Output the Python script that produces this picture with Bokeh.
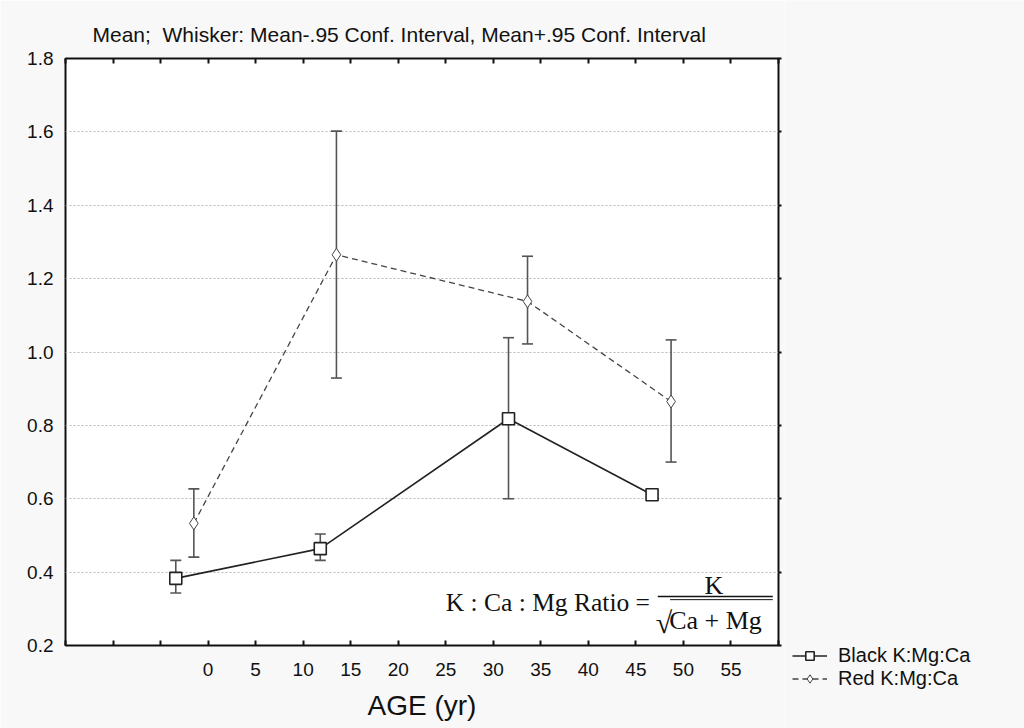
from bokeh.plotting import figure
from bokeh.layouts import row
from bokeh.models import (ColumnDataSource, Whisker, TeeHead, FixedTicker, LinearAxis,
                          Legend, LegendItem, Label, Range1d)
from bokeh.embed import file_html
from bokeh.resources import INLINE

# ---- data ----
black_age = [-3.4, 11.8, 31.6, 46.7]
black_mean = [0.383, 0.464, 0.818, 0.611]
black_lower = [0.343, 0.432, 0.600, 0.600]
black_upper = [0.432, 0.504, 1.039, 0.622]

red_age = [-1.5, 13.5, 33.6, 48.7]
red_mean = [0.533, 1.265, 1.138, 0.865]
red_lower = [0.441, 0.929, 1.022, 0.700]
red_upper = [0.627, 1.602, 1.261, 1.033]

x_ticks = [-15, -10, -5, 0, 5, 10, 15, 20, 25, 30, 35, 40, 45, 50, 55, 60]
x_tick_labels = ["", "", "", "0", "5", "10", "15", "20", "25", "30", "35", "40", "45", "50", "55", ""]
y_ticks = [0.2, 0.4, 0.6, 0.8, 1.0, 1.2, 1.4, 1.6, 1.8]
y_tick_labels = ["0.2", "0.4", "0.6", "0.8", "1.0", "1.2", "1.4", "1.6", "1.8"]

title_text = "Mean;\u00a0 Whisker: Mean-.95 Conf. Interval, Mean+.95 Conf. Interval"
x_title = "AGE (yr)"
series_names = ["Black K:Mg:Ca", "Red K:Mg:Ca"]

FONT = "Liberation Sans"
SERIF = "Liberation Serif"
BG = "#f8f8f8"
INK = "#111111"

p = figure(width=784, height=728,
           x_range=Range1d(-15, 60), y_range=Range1d(0.2, 1.8),
           output_backend="svg", toolbar_location=None,
           min_border_left=65, min_border_right=6, min_border_top=58, min_border_bottom=83,
           title=title_text, frame_align=False,
           background_fill_color="white", border_fill_color=BG,
           outline_line_color=INK, outline_line_width=2)

p.title.text_font = FONT
p.title.text_font_size = "21px"
p.title.text_font_style = "normal"
p.title.text_color = INK
p.title.align = "left"
p.title.offset = 27
p.title.standoff = 25

# bottom axis
xa = p.xaxis[0]
xa.ticker = FixedTicker(ticks=x_ticks)
xa.major_label_overrides = {t: l for t, l in zip(x_ticks, x_tick_labels)}
xa.major_tick_in = 5
xa.major_tick_out = 0
xa.minor_tick_in = 0
xa.minor_tick_out = 0
xa.major_tick_line_color = INK
xa.major_tick_line_width = 2
xa.axis_line_color = None
xa.major_label_standoff = 17
xa.major_label_text_font = FONT
xa.major_label_text_font_size = "19px"
xa.major_label_text_color = INK
xa.axis_label = x_title
xa.axis_label_text_font = FONT
xa.axis_label_text_font_size = "28px"
xa.axis_label_text_font_style = "normal"
xa.axis_label_text_color = INK
xa.axis_label_standoff = 11

# left axis
ya = p.yaxis[0]
ya.ticker = FixedTicker(ticks=y_ticks)
ya.major_label_overrides = {t: l for t, l in zip(y_ticks, y_tick_labels)}
ya.major_tick_in = 0
ya.major_tick_out = 0
ya.minor_tick_in = 0
ya.minor_tick_out = 0
ya.axis_line_color = None
ya.major_label_standoff = 12
ya.major_label_text_font = FONT
ya.major_label_text_font_size = "19px"
ya.major_label_text_color = INK

# top axis: ticks only
top = LinearAxis(ticker=FixedTicker(ticks=x_ticks), major_tick_in=5, major_tick_out=0,
                 minor_tick_in=0, minor_tick_out=0, axis_line_color=None,
                 major_tick_line_color=INK, major_tick_line_width=2,
                 major_label_text_font_size="0px", major_label_standoff=0)
p.add_layout(top, "above")

# right axis: small ticks
right = LinearAxis(ticker=FixedTicker(ticks=y_ticks), major_tick_in=0, major_tick_out=3,
                   minor_tick_in=0, minor_tick_out=0, axis_line_color=None,
                   major_tick_line_color=INK, major_tick_line_width=2,
                   major_label_text_font_size="0px", major_label_standoff=0)
p.add_layout(right, "right")

p.xgrid.grid_line_color = None
p.ygrid.ticker = FixedTicker(ticks=y_ticks)
p.ygrid.grid_line_color = "#b8b8b8"
p.ygrid.grid_line_dash = "2 2"
p.ygrid.grid_line_width = 1

# ---- data sources ----
bsrc = ColumnDataSource(dict(x=black_age, y=black_mean, lower=black_lower, upper=black_upper))
rsrc = ColumnDataSource(dict(x=red_age, y=red_mean, lower=red_lower, upper=red_upper))

wcol = "#555555"
for src in (bsrc, rsrc):
    w = Whisker(source=src, base="x", lower="lower", upper="upper",
                line_color=wcol, line_width=1.6,
                upper_head=TeeHead(size=11, line_color=wcol, line_width=1.6),
                lower_head=TeeHead(size=11, line_color=wcol, line_width=1.6))
    p.add_layout(w)

black_line_style = dict(line_color="#222222", line_width=1.6)
red_line_style = dict(line_color="#444444", line_width=1.3, line_dash="6 4")
black_marker_style = dict(marker="square", size=12, fill_color="white",
                          line_color="#222222", line_width=1.6)
red_marker_style = dict(marker="diamond", size=13, fill_color="white",
                        line_color="#444444", line_width=1.0)

p.line("x", "y", source=bsrc, **black_line_style)
p.line("x", "y", source=rsrc, **red_line_style)
p.scatter("x", "y", source=bsrc, **black_marker_style)
p.scatter("x", "y", source=rsrc, **red_marker_style)

# ---- formula annotation ----
p.add_layout(Label(x=25, y=0.317, text="K : Ca : Mg Ratio =", text_font=SERIF,
                   text_font_size="25.5px", text_baseline="alphabetic", text_color=INK))
p.add_layout(Label(x=53.2, y=0.3635, text="K", text_font=SERIF, text_align="center",
                   text_font_size="26px", text_baseline="alphabetic", text_color=INK))
p.add_layout(Label(x=47.1, y=0.262, text="\u221a", text_font=SERIF,
                   text_font_size="30px", text_baseline="alphabetic", text_color=INK))
p.add_layout(Label(x=48.5, y=0.268, text="Ca + Mg", text_font=SERIF,
                   text_font_size="26px", text_baseline="alphabetic", text_color=INK))
p.segment(x0=[47.3], y0=[0.3336], x1=[59.4], y1=[0.3336], line_color=INK, line_width=1.3)
p.segment(x0=[48.6], y0=[0.325], x1=[59.4], y1=[0.325], line_color=INK, line_width=1.0)

# ---- legend panel (second figure to the right; its view holds no data) ----
q = figure(width=240, height=728, x_range=Range1d(1000, 1001), y_range=Range1d(1000, 1001),
           output_backend="svg", toolbar_location=None,
           x_axis_location=None, y_axis_location=None, frame_align=False,
           min_border=0, outline_line_color=None,
           background_fill_color=BG, border_fill_color=BG)
q.grid.visible = False
lb = q.line("x", "y", source=bsrc, **black_line_style)
sb = q.scatter("x", "y", source=bsrc, **black_marker_style)
lr = q.line("x", "y", source=rsrc, **red_line_style)
sr = q.scatter("x", "y", source=rsrc, **red_marker_style)
legend = Legend(items=[LegendItem(label=series_names[0], renderers=[lb, sb]),
                       LegendItem(label=series_names[1], renderers=[lr, sr])],
                location=(8, 38), orientation="vertical",
                background_fill_alpha=0, border_line_color=None,
                padding=0, margin=0, spacing=0,
                label_text_font=FONT, label_text_font_size="20px", label_text_color=INK,
                glyph_width=35, glyph_height=21, label_height=21, label_standoff=11)
q.add_layout(legend, "center")

layout = row(p, q, spacing=0)
open("out.html", "w").write(file_html(layout, INLINE))
